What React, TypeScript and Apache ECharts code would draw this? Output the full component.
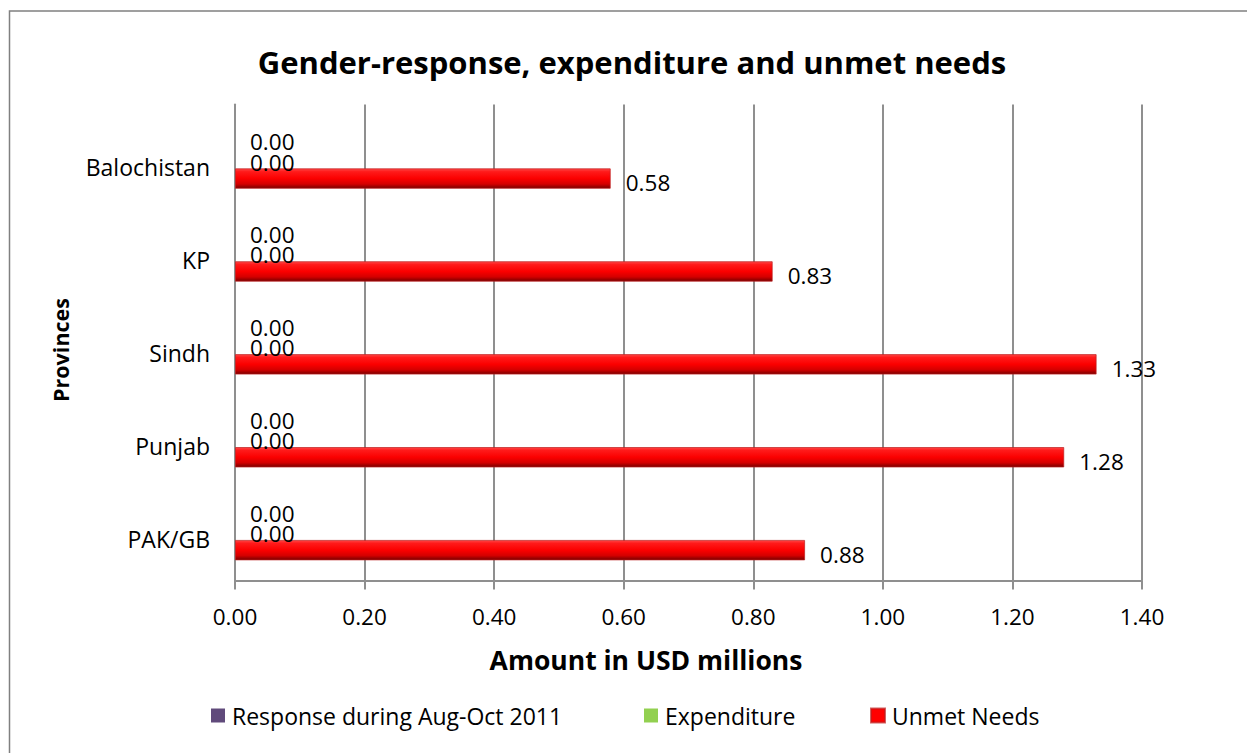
import React, { useEffect, useRef } from "react";
import * as echarts from "echarts";

// Categories listed bottom-to-top (ECharts category y-axis starts at the bottom)
const categories = ["PAK/GB", "Punjab", "Sindh", "KP", "Balochistan"];
const seriesNames = ["Response during Aug-Oct 2011", "Expenditure", "Unmet Needs"];
const responseValues = [0, 0, 0, 0, 0];
const expenditureValues = [0, 0, 0, 0, 0];
const unmetValues = [0.88, 1.28, 1.33, 0.83, 0.58];
const xTickMin = 0;
const xTickMax = 1.4;
const xTickInterval = 0.2;

const FONT = "'Open Sans', 'Noto Sans', sans-serif";
const GRAY = "#8f8f8f";

export default function App() {
  const ref = useRef<HTMLDivElement>(null);

  useEffect(() => {
    if (!ref.current) return;
    const chart = echarts.init(ref.current, undefined, { renderer: "svg" });

    const redGradient = new echarts.graphic.LinearGradient(0, 0, 0, 1, [
      { offset: 0, color: "#ff4545" },
      { offset: 0.15, color: "#ff1a1a" },
      { offset: 0.5, color: "#fb0000" },
      { offset: 0.78, color: "#d40000" },
      { offset: 1, color: "#780000" },
    ]);

    const dataLabel = {
      show: true,
      position: "right",
      distance: 15,
      offset: [0, 4],
      color: "#000",
      fontFamily: FONT,
      fontSize: 22.5,
      formatter: (p: any) => Number(p.value).toFixed(2),
    };

    const legendBase = (name: string, left: number, color: string) => ({
      data: [{ name, itemStyle: { color } }],
      left,
      top: 704,
      padding: 0,
      orient: "horizontal",
      icon: "rect",
      itemWidth: 14,
      itemHeight: 14,
      selectedMode: false,
      textStyle: {
        color: "#000",
        fontFamily: FONT,
        fontSize: 23,
        padding: [0, 0, 0, 2],
      },
    });

    chart.setOption({
      animation: false,
      backgroundColor: "#ffffff",
      grid: [
        { left: 235, top: 104.5, width: 907, height: 476, containLabel: false },
        { left: 235, top: 111.6, width: 907, height: 464.5, containLabel: false },
      ],
      xAxis: [
        {
          gridIndex: 0,
          type: "value",
          min: xTickMin,
          max: xTickMax,
          interval: xTickInterval,
          axisLine: { show: true, lineStyle: { color: GRAY, width: 2 } },
          axisTick: { show: true, length: 9, lineStyle: { color: GRAY, width: 2 } },
          axisLabel: {
            color: "#000",
            fontFamily: FONT,
            fontSize: 22.5,
            margin: 24,
            formatter: (v: number) => v.toFixed(2),
          },
          splitLine: { show: true, lineStyle: { color: GRAY, width: 2 } },
        },
        {
          gridIndex: 1,
          type: "value",
          min: xTickMin,
          max: xTickMax,
          interval: xTickInterval,
          show: false,
        },
      ],
      yAxis: [
        {
          gridIndex: 0,
          type: "category",
          data: categories,
          axisLine: { show: true, lineStyle: { color: GRAY, width: 2 } },
          axisTick: { show: false },
          axisLabel: { show: false },
          splitLine: { show: false },
        },
        {
          gridIndex: 1,
          type: "category",
          data: categories,
          axisLine: { show: false },
          axisTick: { show: false },
          splitLine: { show: false },
          axisLabel: {
            color: "#000",
            fontFamily: FONT,
            fontSize: 23,
            margin: 25,
            verticalAlign: "top",
            lineHeight: 18,
          },
        },
      ],
      legend: [
        legendBase(seriesNames[0], 211, "#604a7b"),
        legendBase(seriesNames[1], 644, "#92d050"),
        legendBase(seriesNames[2], 870, "#ff0000"),
      ],
      series: [
        {
          name: seriesNames[0],
          type: "bar",
          xAxisIndex: 1,
          yAxisIndex: 1,
          data: responseValues,
          barWidth: 20.5,
          barGap: "0%",
          itemStyle: { color: "#604a7b" },
          label: dataLabel,
        },
        {
          name: seriesNames[1],
          type: "bar",
          xAxisIndex: 1,
          yAxisIndex: 1,
          data: expenditureValues,
          barWidth: 20.5,
          barGap: "0%",
          itemStyle: { color: "#92d050" },
          label: dataLabel,
        },
        {
          name: seriesNames[2],
          type: "bar",
          xAxisIndex: 1,
          yAxisIndex: 1,
          data: unmetValues,
          barWidth: 20.5,
          barGap: "0%",
          itemStyle: { color: redGradient, borderColor: "rgba(190,30,30,0.7)", borderWidth: 1 },
          label: dataLabel,
        },
      ],
      graphic: [
        {
          type: "rect",
          z: -10,
          silent: true,
          shape: { x: 9.5, y: 11, width: 1300, height: 800 },
          style: { fill: "none", stroke: "#808080", lineWidth: 1.5 },
        },
        {
          type: "text",
          x: 632,
          y: 62,
          style: {
            text: "Gender-response, expenditure and unmet needs",
            fill: "#000",
            font: `bold 31px ${FONT}`,
            textAlign: "center",
            align: "center",
            textVerticalAlign: "middle",
            verticalAlign: "middle",
          },
        },
        {
          type: "text",
          x: 646,
          y: 660,
          style: {
            text: "Amount in USD millions",
            fill: "#000",
            font: `bold 26.5px ${FONT}`,
            textAlign: "center",
            align: "center",
            textVerticalAlign: "middle",
            verticalAlign: "middle",
          },
        },
        {
          type: "text",
          x: 60,
          y: 350,
          rotation: Math.PI / 2,
          style: {
            text: "Provinces",
            fill: "#000",
            font: `bold 21.5px ${FONT}`,
            textAlign: "center",
            align: "center",
            textVerticalAlign: "middle",
            verticalAlign: "middle",
          },
        },
      ],
    });

    return () => chart.dispose();
  }, []);

  return (
    <div
      ref={ref}
      style={{ position: "absolute", left: 0, top: 0, width: 1247, height: 753 }}
    />
  );
}
